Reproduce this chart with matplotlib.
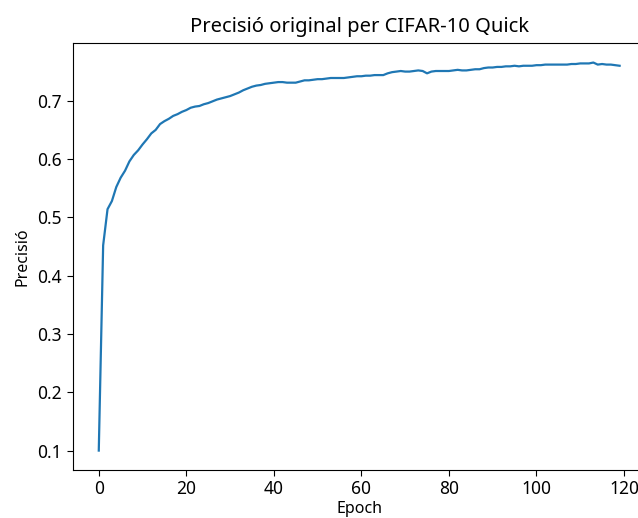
import numpy as np
import matplotlib
matplotlib.use("Agg")
import matplotlib.pyplot as plt

plt.rcParams['font.family'] = ['Noto Sans', 'DejaVu Sans']

epochs = list(range(120))
precisio = [
    0.100, 0.452, 0.514, 0.528, 0.552, 0.568, 0.580, 0.596, 0.607, 0.615,
    0.625, 0.634, 0.644, 0.650, 0.660, 0.665, 0.669, 0.674, 0.677, 0.681,
    0.684, 0.688, 0.690, 0.691, 0.694, 0.696, 0.699, 0.702, 0.704, 0.706,
    0.708, 0.711, 0.714, 0.718, 0.721, 0.724, 0.726, 0.727, 0.729, 0.730,
    0.731, 0.732, 0.732, 0.731, 0.731, 0.731, 0.733, 0.735, 0.735, 0.736,
    0.737, 0.737, 0.738, 0.739, 0.739, 0.739, 0.739, 0.740, 0.741, 0.742,
    0.742, 0.743, 0.743, 0.744, 0.744, 0.744, 0.747, 0.749, 0.750, 0.751,
    0.750, 0.750, 0.751, 0.752, 0.751, 0.747, 0.750, 0.751, 0.751, 0.751,
    0.751, 0.752, 0.753, 0.752, 0.752, 0.753, 0.754, 0.754, 0.756, 0.757,
    0.757, 0.758, 0.758, 0.759, 0.759, 0.760, 0.759, 0.760, 0.760, 0.760,
    0.761, 0.761, 0.762, 0.762, 0.762, 0.762, 0.762, 0.762, 0.763, 0.763,
    0.764, 0.764, 0.764, 0.7655, 0.762, 0.763, 0.762, 0.762, 0.761, 0.760,
]

fig = plt.figure(figsize=(6.38, 5.18), dpi=100)
ax = fig.add_axes([0.114, 0.0927, 0.898, 0.824])
ax.plot(epochs, precisio, color='#1f77b4', linewidth=1.6)
ax.set_title('Precisió original per CIFAR-10 Quick', fontsize=14.5, pad=8)
ax.set_xlabel('Epoch', fontsize=11.5, labelpad=2)
ax.set_ylabel('Precisió', fontsize=11.5, labelpad=5)
ax.tick_params(labelsize=12.5, length=4.5)
ax.tick_params(axis='x', pad=3)

fig.savefig('out.png', dpi=100)
